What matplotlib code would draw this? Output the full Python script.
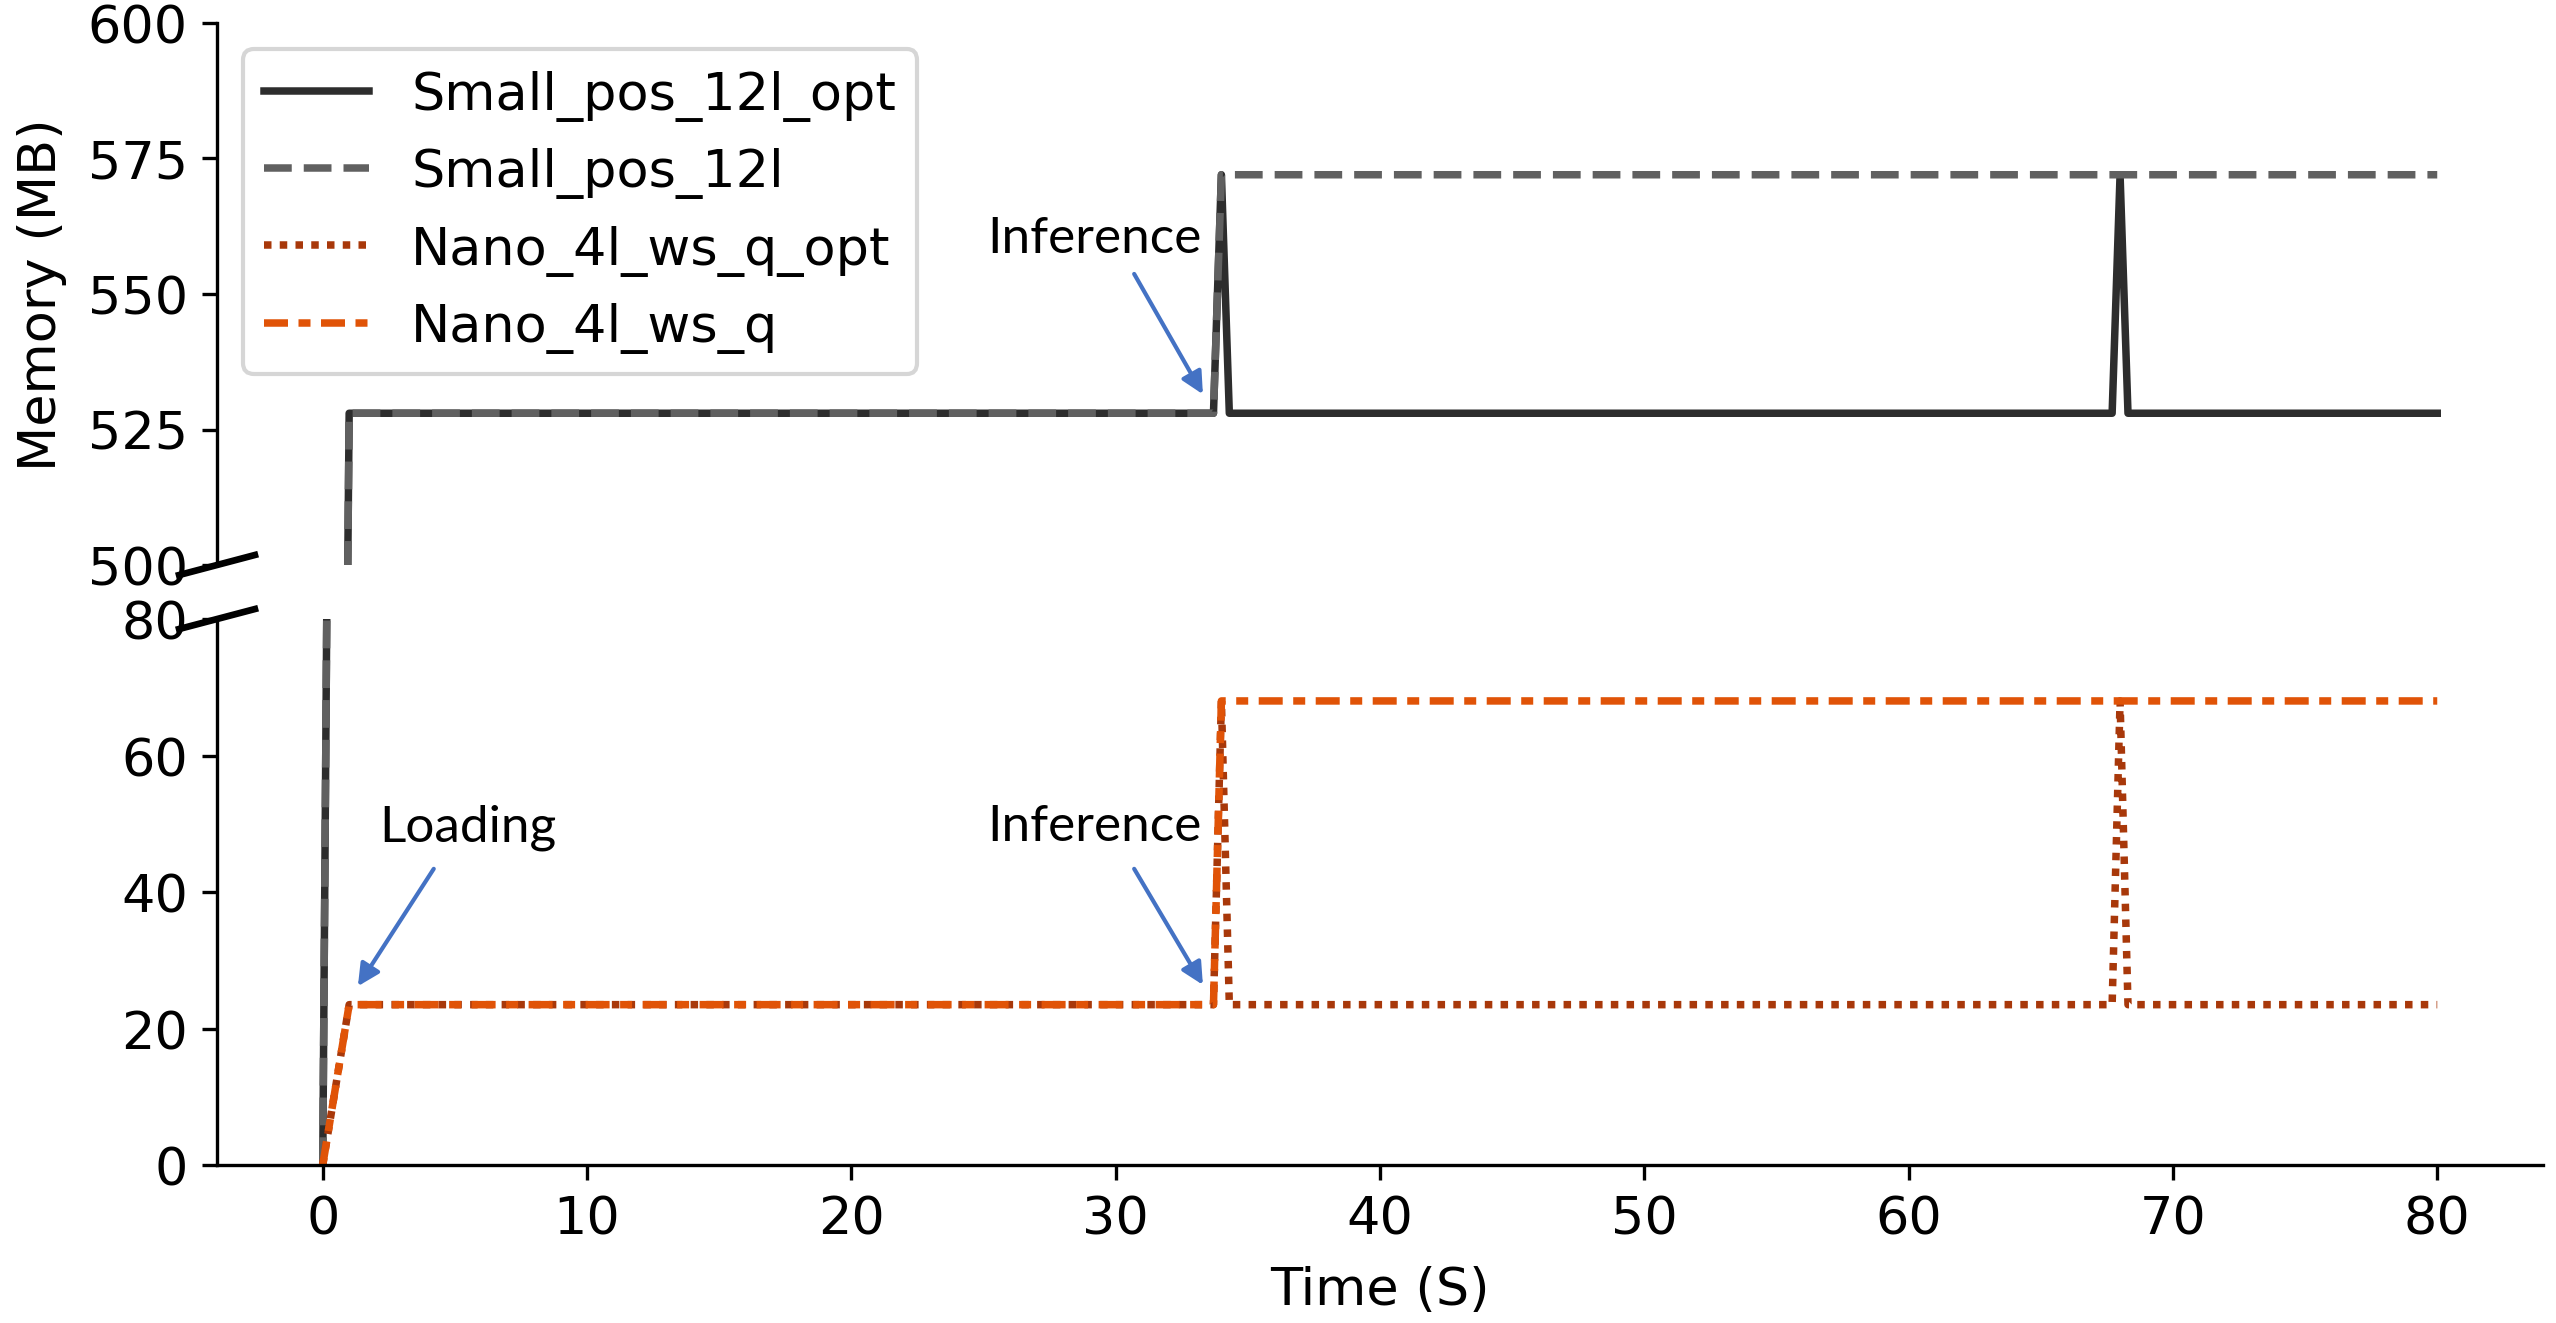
import matplotlib as mlp
mlp.use('Agg')
import matplotlib.pyplot as plt

# Memory trace samples (seconds, MB).
time_s = [0, 1, 33.7, 34.0, 34.3, 67.7, 68.0, 68.3, 80]
small_pos_12l_opt = [0, 528, 528, 572, 528, 528, 572, 528, 528]
small_pos_12l = [0, 528, 528, 572, 572, 572, 572, 572, 572]
nano_4l_ws_q_opt = [0, 23.5, 23.5, 68, 23.5, 23.5, 68, 23.5, 23.5]
nano_4l_ws_q = [0, 23.5, 23.5, 68, 68, 68, 68, 68, 68]

labels = ['Small_pos_12l_opt', 'Small_pos_12l', 'Nano_4l_ws_q_opt',
          'Nano_4l_ws_q']
top_ticks = [500, 525, 550, 575, 600]
bottom_ticks = [0, 20, 40, 60, 80]
x_ticks = [0, 10, 20, 30, 40, 50, 60, 70, 80]

LW = 1.8
styles = [
    dict(color='#2d2d2d', linestyle='-'),
    dict(color='#606060', linestyle='--'),
    dict(color='#a8380a', linestyle=(0, (1, 1.1))),
    dict(color='#e05307', linestyle=(0, (3.2, 1.4, 1.6, 1.4))),
]
series = [small_pos_12l_opt, small_pos_12l, nano_4l_ws_q_opt, nano_4l_ws_q]

plt.rcParams['font.size'] = 12.6

# Create Figure.
fig = plt.figure(figsize=(8.52, 4.4133), dpi=300)
ax_top = fig.add_axes([0.0849, 0.5725, 0.910, 0.4094])
ax_bot = fig.add_axes([0.0849, 0.1193, 0.910, 0.4124])

for ax in (ax_top, ax_bot):
    for ys, lab, st in zip(series, labels, styles):
        ax.plot(time_s, ys, label=lab, lw=LW, **st)
    ax.spines['right'].set_visible(False)
    ax.spines['top'].set_visible(False)
    ax.set_xlim(-4, 84)

ax_top.set_ylim(500, 600)
ax_top.set_yticks(top_ticks)
ax_top.spines['bottom'].set_visible(False)
ax_top.tick_params(axis='x', which='both', bottom=False, labelbottom=False)
ax_top.set_ylabel('Memory (MB)', labelpad=5)
ax_top.legend(loc='upper left')

ax_bot.set_ylim(0, 80)
ax_bot.set_yticks(bottom_ticks)
ax_bot.set_xticks(x_ticks)
ax_bot.set_xlabel('Time (S)', labelpad=5)

# Break marks on the left spine.
dx = 0.0163
ax_top.plot([-dx, dx], [-0.0185, 0.0185], transform=ax_top.transAxes,
            color='k', lw=1.6, clip_on=False)
ax_bot.plot([-dx, dx], [1 - 0.0183, 1 + 0.0183], transform=ax_bot.transAxes,
            color='k', lw=1.6, clip_on=False)

# Annotations.
arrow = dict(arrowstyle='-|>', color='#4472c4', lw=1.0, mutation_scale=11,
             shrinkA=0, shrinkB=0)
note_font = dict(family=['Lato', 'DejaVu Sans'], fontsize=12.3,
                 ha='center', va='baseline')
ax_top.text(29.2, 557.7, 'Inference', **note_font)
ax_top.annotate('', xy=(33.3, 531.5), xytext=(30.7, 553.7),
                arrowprops=arrow)
ax_bot.text(29.2, 47.6, 'Inference', **note_font)
ax_bot.annotate('', xy=(33.3, 26.4), xytext=(30.7, 43.4), arrowprops=arrow)
ax_bot.text(5.5, 47.6, 'Loading', **note_font)
ax_bot.annotate('', xy=(1.33, 26.2), xytext=(4.2, 43.4), arrowprops=arrow)

fig.savefig('out.png', dpi=300)
